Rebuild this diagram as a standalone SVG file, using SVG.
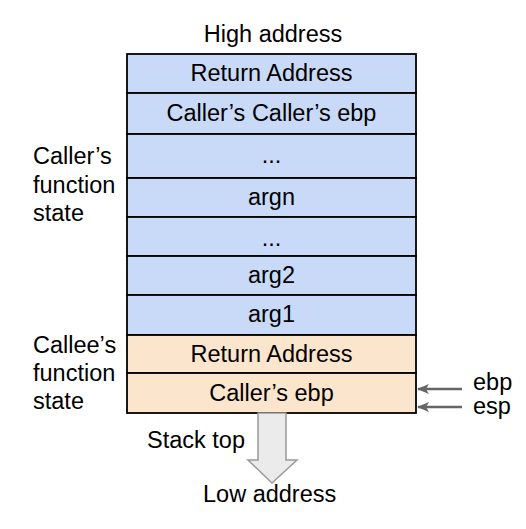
<svg xmlns="http://www.w3.org/2000/svg" width="526" height="529" viewBox="0 0 526 529">
<style>
text{font-family:"Liberation Sans",Arial,sans-serif;font-size:23.5px;fill:#000}
.c{text-anchor:middle}
.blue{fill:#c9daf8;stroke:#000;stroke-width:1.8}
.peach{fill:#fce5cd;stroke:#000;stroke-width:1.8}
.ptr{stroke:#666;stroke-width:2.5;fill:none;marker-end:url(#ah)}
</style>
<defs>
<marker id="ah" markerWidth="12" markerHeight="10" refX="11" refY="5" orient="auto" markerUnits="userSpaceOnUse" viewBox="0 0 12 10">
<path d="M0,0 L12,5 L0,10 L3,5 Z" fill="#666"/>
</marker>
</defs>
<rect width="526" height="529" fill="#fff"/>
<text class="c" x="273" y="42">High address</text>
<g id="labels">
<text x="33" y="164">Caller’s</text>
<text x="33" y="193">function</text>
<text x="33" y="221">state</text>
<text x="33" y="353">Callee’s</text>
<text x="33" y="381">function</text>
<text x="33" y="409">state</text>
</g>
<g id="row1"><rect class="blue" x="127" y="54" width="289" height="39"/><text class="c" x="271.5" y="81">Return Address</text></g>
<g id="row2"><rect class="blue" x="127" y="93" width="289" height="41"/><text class="c" x="271.5" y="121">Caller’s Caller’s ebp</text></g>
<g id="row3"><rect class="blue" x="127" y="134" width="289" height="44"/><text class="c" x="271.5" y="163">...</text></g>
<g id="row4"><rect class="blue" x="127" y="178" width="289" height="39"/><text class="c" x="271.5" y="205">argn</text></g>
<g id="row5"><rect class="blue" x="127" y="217" width="289" height="39"/><text class="c" x="271.5" y="246">...</text></g>
<g id="row6"><rect class="blue" x="127" y="256" width="289" height="39"/><text class="c" x="271.5" y="283">arg2</text></g>
<g id="row7"><rect class="blue" x="127" y="295" width="289" height="40"/><text class="c" x="271.5" y="322">arg1</text></g>
<g id="row8"><rect class="peach" x="127" y="335" width="289" height="38"/><text class="c" x="271.5" y="362">Return Address</text></g>
<g id="row9"><rect class="peach" x="127" y="373" width="289" height="40"/><text class="c" x="271.5" y="401">Caller’s ebp</text></g>
<g id="connectors">
<line class="ptr" x1="462" y1="389" x2="418" y2="389"/>
<line class="ptr" x1="462" y1="407" x2="418" y2="407"/>
<path d="M258,413 L286,413 L286,460 L297,460 L272,483 L248,460 L258,460 Z" fill="#ebebeb" stroke="#999" stroke-width="1.5"/>
</g>
<text x="473" y="390">ebp</text>
<text x="473" y="414">esp</text>
<text x="147" y="448">Stack top</text>
<text x="203" y="502">Low address</text>
</svg>
